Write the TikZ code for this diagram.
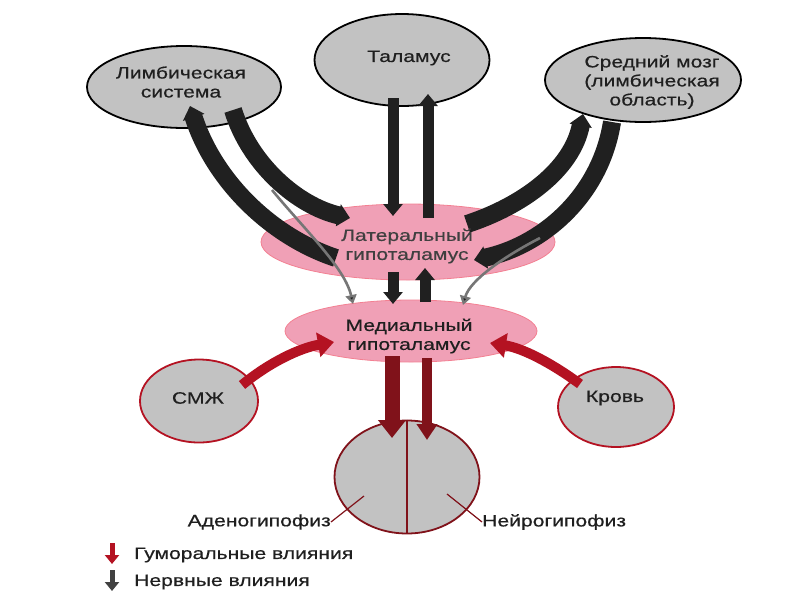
\documentclass[tikz,border=0pt]{standalone}
\usepackage{fontspec}
\setmainfont{Liberation Sans}[FakeStretch=1.28,FakeBold=0.5]
\usetikzlibrary{arrows.meta,shapes.geometric}
\definecolor{nodegray}{RGB}{194,194,194}
\definecolor{pinkfill}{RGB}{240,160,182}
\definecolor{hred}{RGB}{180,18,34}
\definecolor{darkred}{RGB}{128,18,26}
\definecolor{bandcol}{RGB}{32,32,32}
\definecolor{thincol}{RGB}{118,118,118}
\begin{document}
\begin{tikzpicture}[x=1pt,y=-1pt,
  lbl/.style={font=\fontsize{16.5}{19}\selectfont, text=black!88, align=center, inner sep=0pt},
  greyell/.style={ellipse, draw=black, line width=1.8pt, fill=nodegray, inner sep=0pt},
  redell/.style={ellipse, draw=hred, line width=1.8pt, fill=nodegray, inner sep=0pt},
  pinkell/.style={ellipse, draw=pinkfill!80!red, line width=0.8pt, fill=pinkfill, inner sep=0pt},
  band/.style={draw=bandcol, line width=18pt},
  bandtip/.style={-{Triangle[length=12pt,width=22pt]}},
  vbar/.style={draw=bandcol, line width=11pt, -{Triangle[length=12pt,width=19pt]}},
  thin/.style={draw=thincol, line width=2.6pt, -{Triangle[length=9pt,width=11pt,fill=bandcol]}},
  humor/.style={draw=hred, line width=10pt, -{Triangle[length=16pt,width=24pt]}},
  humordown/.style={draw=darkred, -{Triangle[length=18pt,width=27pt]}},
  leader/.style={draw=darkred, line width=1.2pt}
]
\useasboundingbox[fill=white] (0,0) rectangle (800,600);

% pink hypothalamus ellipses
\node[pinkell, minimum width=294pt, minimum height=76pt] (lat) at (408,242) {};
\node[pinkell, minimum width=252pt, minimum height=62pt] (med) at (411,331) {};

% top grey nodes
\node[greyell, minimum width=194pt, minimum height=82pt] (limb) at (184,87) {};
\node[greyell, minimum width=175pt, minimum height=92pt] (tal) at (402,60) {};
\node[greyell, minimum width=196pt, minimum height=84pt] (mid) at (643,80) {};

% lower nodes
\node[redell, minimum width=118pt, minimum height=83pt] (csf) at (199,401) {};
\node[redell, minimum width=116pt, minimum height=80pt] (blood) at (616,407) {};
\node[ellipse, draw=darkred, line width=1.8pt, fill=nodegray, inner sep=0pt,
      minimum width=145pt, minimum height=113pt] (hyp) at (407,477) {};
\draw[darkred, line width=1.5pt] (hyp.north) -- (hyp.south);

% coordinates for band ends
\coordinate (limbA) at (190,106);
\coordinate (latA) at (336,258);
\coordinate (limbB) at (233,110);
\coordinate (latB) at (350,218);
\coordinate (thinLs) at (272,190);
\coordinate (medL) at (353,304);
\coordinate (midA) at (583,114);
\coordinate (latC) at (467,224);
\coordinate (midB) at (612,122);
\coordinate (latD) at (474,260);
\coordinate (thinRs) at (540,238);
\coordinate (medR) at (463,305);

% limbic <-> lateral
\draw[band, bandtip] (latA) .. controls (270,236) and (214,180) .. (limbA);
\draw[band, bandtip] (limbB) .. controls (250,165) and (298,206) .. (latB);
\draw[thin] (thinLs) .. controls (305,230) and (345,268) .. (medL);

% midbrain <-> lateral
\draw[band, bandtip] (latC) .. controls (522,206) and (572,170) .. (midA);
\draw[band, bandtip] (midB) .. controls (600,198) and (540,246) .. (latD);
\draw[thin] (thinRs) .. controls (505,256) and (470,280) .. (medR);

% thalamus <-> lateral
\coordinate (talL) at (393,98);
\coordinate (latTL) at (393,216);
\coordinate (latTR) at (428,218);
\coordinate (talR) at (428,94);
\draw[vbar] (talL) -- (latTL);
\draw[vbar] (latTR) -- (talR);

% lateral <-> medial
\coordinate (latM1) at (393,272);
\coordinate (medM1) at (393,304);
\coordinate (medM2) at (425,302);
\coordinate (latM2) at (425,268);
\draw[vbar] (latM1) -- (medM1);
\draw[vbar] (medM2) -- (latM2);

% humoral arrows
\coordinate (csfS) at (242,385);
\coordinate (medCL) at (334,342);
\coordinate (bloodS) at (580,384);
\coordinate (medCR) at (490,343);
\draw[humor] (csfS) .. controls (270,362) and (300,348) .. (medCL);
\draw[humor] (bloodS) .. controls (550,362) and (522,348) .. (medCR);

\coordinate (medP1) at (392,356);
\coordinate (hypP1) at (392,438);
\coordinate (medP2) at (427,358);
\coordinate (hypP2) at (427,440);
\draw[humordown, line width=15pt] (medP1) -- (hypP1);
\draw[humordown, line width=10pt, -{Triangle[length=16pt,width=20pt]}] (medP2) -- (hypP2);

% texts
\node[lbl] (tlimb) at (181,82) {Лимбическая\\система};
\node[lbl] (ttal) at (409,58) {Таламус};
\node[lbl] (tmid) at (652,82) {Средний мозг\\(лимбическая\\область)};
\node[lbl, text=black!75] (tlat) at (407,246) {Латеральный\\гипоталамус};
\node[lbl] (tmed) at (409,336) {Медиальный\\гипоталамус};
\node[lbl] (tcsf) at (198,398) {СМЖ};
\node[lbl] (tblood) at (615,398) {Кровь};

% pituitary labels
\node[lbl, anchor=east] (aden) at (331,522) {Аденогипофиз};
\node[lbl, anchor=west] (neuro) at (482,522) {Нейрогипофиз};
\coordinate (adenIn) at (364,496);
\coordinate (neuroIn) at (447,494);
\draw[leader] (aden.east) -- (adenIn);
\draw[leader] (neuro.west) -- (neuroIn);

% legend
\coordinate (lg1a) at (112,543);
\coordinate (lg1b) at (112,564);
\coordinate (lg2a) at (112,570);
\coordinate (lg2b) at (112,591);
\draw[draw=hred, line width=5pt, -{Triangle[length=9pt,width=14pt]}] (lg1a) -- (lg1b);
\draw[draw=bandcol!85, line width=5pt, -{Triangle[length=9pt,width=14pt]}] (lg2a) -- (lg2b);
\node[lbl, anchor=west] (leg1) at (134,555) {Гуморальные влияния};
\node[lbl, anchor=west] (leg2) at (134,582) {Нервные влияния};
\end{tikzpicture}
\end{document}
